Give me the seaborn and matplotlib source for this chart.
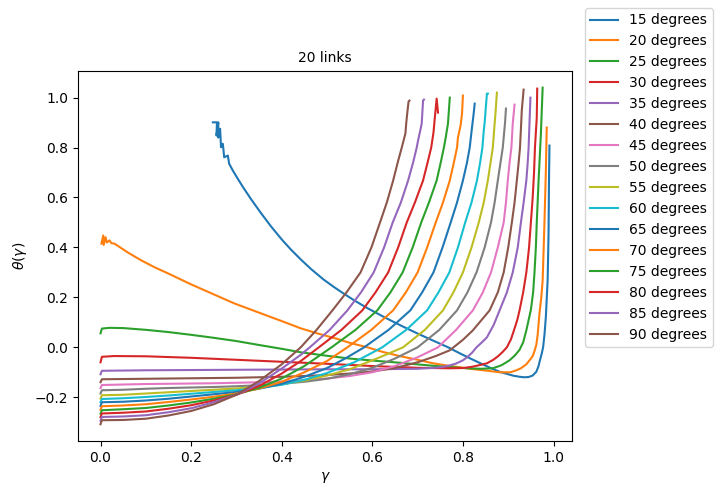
import matplotlib
matplotlib.use("Agg")
import matplotlib.pyplot as plt
import seaborn as sns
import pandas as pd

angles = [15, 20, 25, 30, 35, 40, 45, 50, 55, 60, 65, 70, 75, 80, 85, 90]

x15 = [0.248, 0.257, 0.256, 0.26, 0.26, 0.264, 0.266, 0.27, 0.273, 0.281, 0.284, 0.292, 0.303, 0.314, 0.332, 0.354, 0.376, 0.40, 0.42, 0.442, 0.465, 0.492, 0.514, 0.536, 0.56, 0.589, 0.625, 0.662, 0.7, 0.734, 0.765, 0.793, 0.82, 0.84, 0.86, 0.881, 0.9, 0.912, 0.925, 0.935, 0.945, 0.954, 0.962, 0.967, 0.97, 0.974, 0.977, 0.98, 0.983, 0.987, 0.989, 0.990, 0.991]
y15 = [0.901, 0.901, 0.848, 0.901, 0.84, 0.875, 0.801, 0.815, 0.761, 0.768, 0.735, 0.708, 0.675, 0.643, 0.594, 0.538, 0.485, 0.432, 0.392, 0.352, 0.313, 0.272, 0.243, 0.216, 0.188, 0.157, 0.122, 0.088, 0.055, 0.027, 0.002, -0.024, -0.048, -0.065, -0.082, -0.098, -0.108, -0.114, -0.118, -0.12, -0.119, -0.113, -0.098, -0.075, -0.052, -0.025, 0.0, 0.05, 0.12, 0.268, 0.45, 0.668, 0.808]
x20 = [0.002, 0.006, 0.007, 0.011, 0.014, 0.02, 0.024, 0.031, 0.06, 0.09, 0.12, 0.149, 0.2, 0.25, 0.295, 0.354, 0.4, 0.442, 0.48, 0.52, 0.55, 0.589, 0.62, 0.66, 0.7, 0.734, 0.765, 0.793, 0.82, 0.85, 0.881, 0.905, 0.918, 0.928, 0.94, 0.948, 0.954, 0.958, 0.962, 0.965, 0.969, 0.973, 0.976, 0.980, 0.983, 0.985]
y20 = [0.415, 0.448, 0.41, 0.441, 0.42, 0.428, 0.417, 0.415, 0.38, 0.348, 0.32, 0.296, 0.252, 0.212, 0.176, 0.136, 0.105, 0.076, 0.055, 0.035, 0.018, 0.0, -0.017, -0.035, -0.05, -0.064, -0.073, -0.08, -0.087, -0.093, -0.1, -0.1, -0.092, -0.084, -0.068, -0.05, -0.035, -0.015, 0.01, 0.05, 0.136, 0.2, 0.268, 0.5, 0.7, 0.88]
x25 = [0.0, 0.003, 0.02, 0.05, 0.1, 0.15, 0.2, 0.25, 0.3, 0.354, 0.4, 0.442, 0.5, 0.55, 0.6, 0.662, 0.74, 0.809, 0.84, 0.866, 0.885, 0.903, 0.915, 0.925, 0.933, 0.94, 0.95, 0.955, 0.958, 0.961, 0.963, 0.967, 0.972, 0.976]
y25 = [0.056, 0.075, 0.078, 0.077, 0.07, 0.061, 0.05, 0.038, 0.025, 0.008, -0.006, -0.02, -0.034, -0.045, -0.053, -0.062, -0.075, -0.084, -0.086, -0.084, -0.072, -0.052, -0.032, -0.01, 0.02, 0.068, 0.15, 0.22, 0.3, 0.4, 0.5, 0.668, 0.85, 1.04]
x30 = [0.0, 0.003, 0.03, 0.1, 0.2, 0.3, 0.4, 0.5, 0.6, 0.7, 0.771, 0.8, 0.82, 0.84, 0.853, 0.867, 0.878, 0.888, 0.897, 0.906, 0.913, 0.92, 0.925, 0.933, 0.94, 0.946, 0.95, 0.954, 0.957, 0.959, 0.963, 0.964]
y30 = [-0.06, -0.038, -0.035, -0.036, -0.042, -0.05, -0.058, -0.066, -0.075, -0.082, -0.084, -0.083, -0.078, -0.07, -0.064, -0.05, -0.035, -0.018, 0.0, 0.032, 0.07, 0.11, 0.148, 0.22, 0.3, 0.4, 0.5, 0.6, 0.7, 0.8, 0.92, 1.036]
x35 = [0.0, 0.003, 0.1, 0.2, 0.3, 0.4, 0.5, 0.6, 0.65, 0.7, 0.73, 0.75, 0.77, 0.785, 0.8, 0.809, 0.82, 0.83, 0.842, 0.853, 0.868, 0.881, 0.897, 0.91, 0.921, 0.928, 0.934, 0.94, 0.943, 0.945, 0.949]
y35 = [-0.108, -0.094, -0.092, -0.091, -0.09, -0.089, -0.088, -0.088, -0.087, -0.086, -0.083, -0.08, -0.073, -0.065, -0.052, -0.04, -0.022, 0.0, 0.02, 0.04, 0.09, 0.148, 0.22, 0.3, 0.4, 0.5, 0.58, 0.668, 0.74, 0.8, 1.0]
x40 = [0.0, 0.003, 0.05, 0.1, 0.15, 0.2, 0.25, 0.3, 0.35, 0.4, 0.45, 0.5, 0.55, 0.6, 0.65, 0.7, 0.74, 0.771, 0.80, 0.822, 0.859, 0.877, 0.89, 0.9, 0.908, 0.914, 0.919, 0.923, 0.926, 0.93, 0.934]
y40 = [-0.14, -0.128, -0.127, -0.126, -0.125, -0.124, -0.123, -0.122, -0.12, -0.118, -0.115, -0.111, -0.105, -0.097, -0.083, -0.06, -0.035, -0.012, 0.03, 0.068, 0.148, 0.22, 0.3, 0.4, 0.5, 0.58, 0.668, 0.74, 0.8, 0.95, 1.032]
x45 = [0.0, 0.003, 0.05, 0.1, 0.15, 0.2, 0.25, 0.3, 0.35, 0.4, 0.45, 0.5, 0.55, 0.6, 0.65, 0.7, 0.745, 0.785, 0.822, 0.844, 0.862, 0.877, 0.89, 0.895, 0.899, 0.903, 0.907, 0.91, 0.914]
y45 = [-0.163, -0.151, -0.149, -0.147, -0.146, -0.145, -0.144, -0.142, -0.14, -0.137, -0.132, -0.125, -0.115, -0.1, -0.075, -0.04, 0.0, 0.07, 0.148, 0.22, 0.3, 0.4, 0.5, 0.58, 0.668, 0.74, 0.8, 0.896, 0.972]
x50 = [0.0, 0.003, 0.05, 0.1, 0.15, 0.2, 0.25, 0.3, 0.35, 0.4, 0.45, 0.5, 0.55, 0.6, 0.65, 0.70, 0.748, 0.787, 0.81, 0.83, 0.848, 0.862, 0.87, 0.877, 0.883, 0.888, 0.893, 0.895]
y50 = [-0.185, -0.172, -0.17, -0.166, -0.163, -0.161, -0.159, -0.156, -0.152, -0.146, -0.138, -0.126, -0.108, -0.082, -0.045, 0.0, 0.07, 0.148, 0.22, 0.3, 0.4, 0.5, 0.58, 0.668, 0.74, 0.8, 0.9, 0.956]
x55 = [0.0, 0.003, 0.05, 0.1, 0.15, 0.2, 0.25, 0.3, 0.35, 0.4, 0.45, 0.5, 0.55, 0.61, 0.668, 0.716, 0.756, 0.779, 0.8, 0.819, 0.835, 0.846, 0.855, 0.861, 0.866, 0.87, 0.872, 0.875]
y55 = [-0.205, -0.192, -0.19, -0.185, -0.18, -0.175, -0.17, -0.165, -0.158, -0.148, -0.133, -0.113, -0.088, -0.045, 0.0, 0.07, 0.148, 0.22, 0.3, 0.4, 0.5, 0.58, 0.668, 0.74, 0.8, 0.896, 0.94, 1.02]
x60 = [0.0, 0.003, 0.05, 0.1, 0.15, 0.2, 0.25, 0.3, 0.35, 0.4, 0.45, 0.5, 0.56, 0.622, 0.675, 0.721, 0.746, 0.77, 0.789, 0.805, 0.819, 0.831, 0.838, 0.843, 0.846, 0.848, 0.850, 0.853, 0.855]
y60 = [-0.22, -0.207, -0.204, -0.199, -0.193, -0.186, -0.179, -0.172, -0.163, -0.15, -0.13, -0.103, -0.06, 0.0, 0.07, 0.148, 0.22, 0.3, 0.4, 0.5, 0.58, 0.668, 0.74, 0.8, 0.868, 0.9, 0.948, 1.016, 1.016]
x65 = [0.0, 0.003, 0.05, 0.1, 0.15, 0.2, 0.25, 0.3, 0.35, 0.4, 0.45, 0.5, 0.54, 0.582, 0.636, 0.684, 0.71, 0.735, 0.755, 0.773, 0.787, 0.80, 0.809, 0.815, 0.82, 0.824, 0.826]
y65 = [-0.235, -0.22, -0.218, -0.213, -0.206, -0.197, -0.188, -0.179, -0.166, -0.146, -0.118, -0.083, -0.045, 0.0, 0.07, 0.148, 0.22, 0.3, 0.4, 0.5, 0.58, 0.668, 0.74, 0.8, 0.88, 0.94, 0.976]
x70 = [0.0, 0.003, 0.05, 0.1, 0.15, 0.2, 0.25, 0.3, 0.35, 0.4, 0.45, 0.5, 0.545, 0.598, 0.646, 0.674, 0.70, 0.721, 0.74, 0.756, 0.771, 0.78, 0.787, 0.789, 0.795, 0.798, 0.80]
y70 = [-0.25, -0.236, -0.233, -0.228, -0.219, -0.209, -0.198, -0.185, -0.165, -0.138, -0.1, -0.055, 0.0, 0.07, 0.148, 0.22, 0.3, 0.4, 0.5, 0.58, 0.668, 0.74, 0.8, 0.84, 0.89, 0.936, 1.008]
x75 = [0.0, 0.003, 0.05, 0.1, 0.15, 0.2, 0.25, 0.3, 0.35, 0.4, 0.45, 0.51, 0.563, 0.611, 0.64, 0.667, 0.689, 0.708, 0.725, 0.742, 0.751, 0.758, 0.762, 0.767, 0.771]
y75 = [-0.266, -0.252, -0.248, -0.243, -0.233, -0.221, -0.206, -0.188, -0.162, -0.125, -0.075, 0.0, 0.07, 0.148, 0.22, 0.3, 0.4, 0.5, 0.58, 0.668, 0.74, 0.8, 0.84, 0.896, 1.0]
x80 = [0.0, 0.003, 0.05, 0.1, 0.15, 0.2, 0.25, 0.3, 0.35, 0.4, 0.442, 0.482, 0.532, 0.578, 0.607, 0.635, 0.657, 0.676, 0.694, 0.712, 0.722, 0.73, 0.735, 0.738, 0.742, 0.745]
y80 = [-0.28, -0.265, -0.262, -0.257, -0.246, -0.232, -0.213, -0.19, -0.155, -0.105, -0.055, 0.0, 0.07, 0.148, 0.22, 0.3, 0.4, 0.5, 0.58, 0.668, 0.74, 0.8, 0.86, 0.92, 0.996, 0.94]
x85 = [0.0, 0.003, 0.05, 0.1, 0.15, 0.2, 0.25, 0.3, 0.35, 0.4, 0.442, 0.462, 0.506, 0.545, 0.575, 0.603, 0.626, 0.645, 0.663, 0.679, 0.69, 0.698, 0.701, 0.706, 0.709, 0.712, 0.714]
y85 = [-0.294, -0.279, -0.277, -0.272, -0.26, -0.244, -0.22, -0.19, -0.145, -0.085, -0.03, 0.0, 0.07, 0.148, 0.22, 0.3, 0.4, 0.5, 0.58, 0.668, 0.74, 0.8, 0.828, 0.87, 0.896, 0.988, 0.992]
x90 = [0.0, 0.003, 0.05, 0.1, 0.15, 0.2, 0.25, 0.3, 0.35, 0.4, 0.442, 0.477, 0.512, 0.543, 0.574, 0.598, 0.617, 0.632, 0.646, 0.656, 0.665, 0.673, 0.675, 0.677, 0.68, 0.682]
y90 = [-0.308, -0.292, -0.291, -0.286, -0.273, -0.255, -0.228, -0.19, -0.135, -0.068, 0.0, 0.07, 0.148, 0.22, 0.3, 0.4, 0.5, 0.58, 0.668, 0.74, 0.8, 0.856, 0.9, 0.936, 0.984, 0.988]

curves = {15: (x15, y15), 20: (x20, y20), 25: (x25, y25), 30: (x30, y30),
          35: (x35, y35), 40: (x40, y40), 45: (x45, y45), 50: (x50, y50),
          55: (x55, y55), 60: (x60, y60), 65: (x65, y65), 70: (x70, y70),
          75: (x75, y75), 80: (x80, y80), 85: (x85, y85), 90: (x90, y90)}

fig, ax = plt.subplots(figsize=(7.23, 4.95), dpi=100)
fig.subplots_adjust(left=0.108, right=0.791, bottom=0.109, top=0.857)

for a in angles:
    xs, ys = curves[a]
    df = pd.DataFrame({"gamma": xs, "theta": ys})
    sns.lineplot(data=df, x="gamma", y="theta", sort=False, estimator=None,
                 label=f"{a} degrees", ax=ax)

ax.set_title("20 links", fontsize=10)
ax.set_xlabel(r"$\gamma$")
ax.set_ylabel(r"$\theta(\gamma)$")
ax.legend(loc="upper left", bbox_to_anchor=(1.026, 1.17), borderaxespad=0)

fig.savefig("out.png", dpi=100)
